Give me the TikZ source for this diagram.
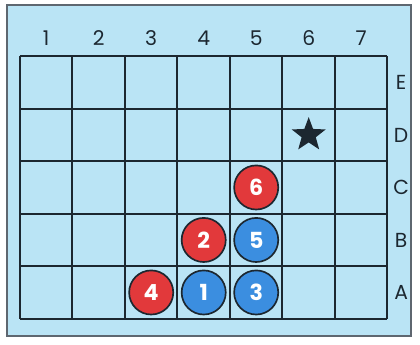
\documentclass[tikz,border=0pt]{standalone}
\usepackage{fontspec}
\setmainfont{Poppins}
\usetikzlibrary{shapes.geometric}
\definecolor{board}{HTML}{BAE4F5}
\definecolor{ink}{HTML}{1C2730}
\definecolor{frame}{HTML}{5E6770}
\definecolor{redpc}{HTML}{E2393B}
\definecolor{bluepc}{HTML}{3B8EE0}
\tikzset{
  cell/.style={draw=ink, line width=1.1pt},
  lbl/.style={font=\fontsize{11}{13}\selectfont, text=ink},
  piece/.style={circle, draw=ink, line width=0.9pt, minimum size=0.84cm,
                inner sep=0pt, text=white, font=\fontsize{12}{14}\selectfont\bfseries},
  redpiece/.style={piece, fill=redpc},
  bluepiece/.style={piece, fill=bluepc},
  goal/.style={star, star points=5, star point ratio=2.4, fill=ink,
               minimum size=0.68cm, inner sep=0pt}
}
\begin{document}
\begin{tikzpicture}
  \useasboundingbox (0,0) rectangle (8,6.571);
  \fill[white] (0,0) rectangle (8,6.571);
  \draw[fill=board, draw=frame, line width=0.8pt] (0.133,0.171) rectangle (7.83,6.476);
  % board
  \draw[cell, xshift=0.38cm, yshift=0.5cm] (0,0) grid (7,5);
  \foreach \c in {1,...,7}
    \node[lbl] (col\c) at (\c-0.12, 5.85) {\c};
  \foreach \r/\n in {1/A,2/B,3/C,4/D,5/E}
    \node[lbl] (row\n) at (7.64, \r) {\n};
  % pieces
  \foreach \x/\y/\num/\sty in {
     2.88/1/4/redpiece,
     3.88/1/1/bluepiece,
     4.88/1/3/bluepiece,
     3.88/2/2/redpiece,
     4.88/2/5/bluepiece,
     4.88/3/6/redpiece} {
    \node[\sty] (p\num) at (\x,\y) {\num};
  }
  \node[goal] (target) at (5.88,4) {};
\end{tikzpicture}
\end{document}
